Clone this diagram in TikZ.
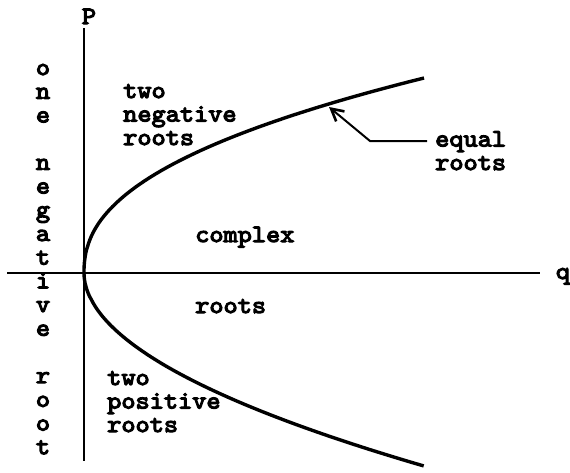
\documentclass[tikz,border=0pt]{standalone}
\usepackage{fontspec}
\newfontfamily\typewr{lmmono10-regular}[Extension=.otf, FakeBold=4.5, FakeStretch=1.08]
\usetikzlibrary{arrows.meta}
\tikzstyle{axis} = [line width=2.6pt]
\tikzstyle{curve} = [line width=3.4pt]
\tikzstyle{lbl} = [font=\typewr\fontsize{25}{23.5}\selectfont, align=left, anchor=base west, inner sep=0pt]
\tikzstyle{arrow} = [line width=2pt,-{Straight Barb[length=12pt,width=13pt,line width=2.6pt]}]

\begin{document}
\begin{tikzpicture}[x=1pt,y=-1pt]
\useasboundingbox (0,0) rectangle (570,472);

% axes
\coordinate (o) at (84,273);
\coordinate (ptop) at (84,28);
\coordinate (pbot) at (84,461);
\coordinate (qleft) at (7,273);
\coordinate (qright) at (540,273);
\draw [axis] (ptop) -- (pbot);
\draw [axis] (qleft) -- (qright);
\node (P) [lbl, anchor=base] at (89,24) {P};
\node (q) [lbl, anchor=base] at (563,279) {q};

% the parabola
\draw [curve] plot [domain=1:0.002, samples=60] ({84+340*\x^2.3},{273-195*\x})
  -- plot [domain=0.002:1, samples=60] ({84+340*\x^1.95},{273+193*\x});

% regions
\node (negroots) [lbl] at (123,145) {two\\negative\\roots};
\node (complex) [lbl] at (195,242) {complex};
\node (croots) [lbl] at (195,313) {roots};
\node (posroots) [lbl] at (107,432) {two\\positive\\roots};
\node (eqroots) [lbl] at (435,170) {equal\\roots};

% left column
\foreach \i/\ch in {0/o,1/n,2/e,4/n,5/e,6/g,7/a,8/t,9/i,10/v,11/e,13/r,14/o,15/o,16/t}
  \node (side\i) [lbl, anchor=base] at (43,{75+23.7*\i}) {\ch};

% pointer to the curve
\coordinate (eqfoot) at (427,141);
\coordinate (eqbend) at (370,141);
\coordinate (eqtip) at (329,107);
\draw [arrow] (eqfoot) -- (eqbend) -- (eqtip);
\end{tikzpicture}
\end{document}
